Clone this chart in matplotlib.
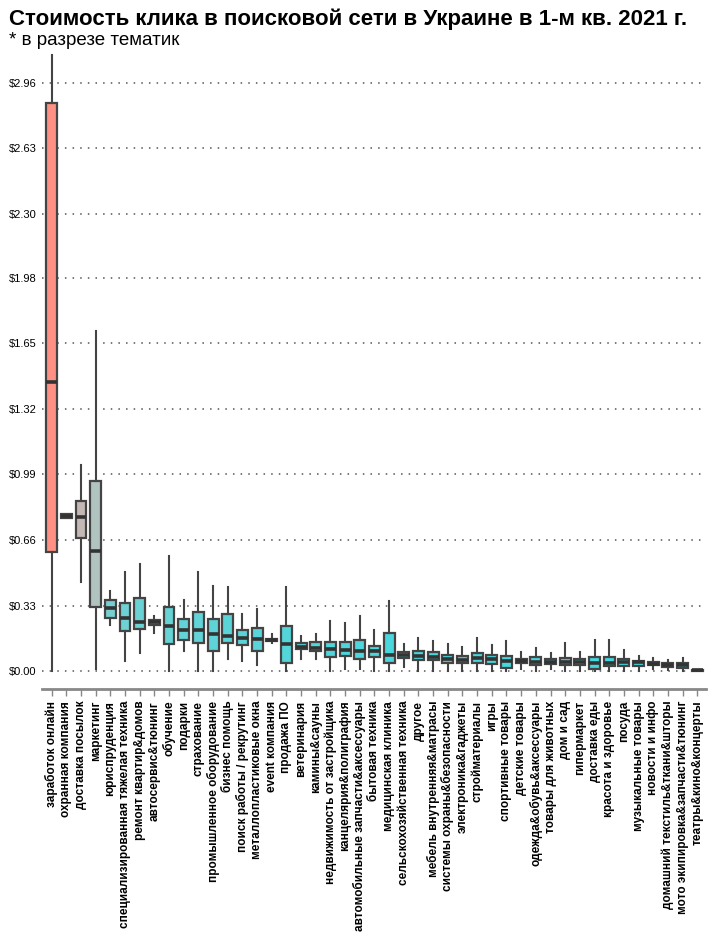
import matplotlib.pyplot as plt
from matplotlib.colors import LinearSegmentedColormap, Normalize

plt.rcParams['font.family'] = ['Liberation Sans', 'DejaVu Sans']

categories = [
    "заработок онлайн", "охранная компания", "доставка посылок", "маркетинг",
    "юриспруденция", "специализированная тяжелая техника", "ремонт квартир&домов",
    "автосервис&тюнинг", "обучение", "подарки", "страхование",
    "промышленное оборудование", "бизнес помощь", "поиск работы / рекрутинг",
    "металлопластиковые окна", "event компания", "продажа ПО", "ветеринария",
    "камины&сауны", "недвижимость от застройщика", "канцелярия&полиграфия",
    "автомобильные запчасти&аксессуары", "бытовая техника", "медицинская клиника",
    "сельскохозяйственная техника", "другое", "мебель внутренняя&матрасы",
    "системы охраны&безопасности", "электроника&гаджеты", "стройматериалы",
    "игры", "спортивные товары", "детские товары", "одежда&обувь&аксессуары",
    "товары для животных", "дом и сад", "гипермаркет", "доставка еды",
    "красота и здоровье", "посуда", "музыкальные товары", "новости и инфо",
    "домашний текстиль&ткани&шторы", "мото экипировка&запчасти&тюнинг",
    "театры&кино&концерты",
]

whislo = [0.00, 0.77, 0.45, 0.01, 0.23, 0.05, 0.09, 0.19, 0.00, 0.10, 0.00,
          0.00, 0.06, 0.05, 0.03, 0.14, 0.00, 0.06, 0.06, 0.00, 0.01, 0.01,
          0.00, 0.00, 0.02, 0.00, 0.00, 0.00, 0.00, 0.00, 0.00, 0.00, 0.01,
          0.00, 0.01, 0.00, 0.00, 0.00, 0.00, 0.00, 0.00, 0.01, 0.005, 0.00, 0.00]
q1 = [0.60, 0.77, 0.67, 0.32, 0.265, 0.20, 0.21, 0.23, 0.135, 0.157, 0.14,
      0.10, 0.143, 0.133, 0.10, 0.15, 0.042, 0.11, 0.10, 0.071, 0.074, 0.059,
      0.071, 0.042, 0.064, 0.054, 0.054, 0.04, 0.04, 0.039, 0.037, 0.014, 0.039,
      0.03, 0.035, 0.03, 0.032, 0.009, 0.025, 0.025, 0.027, 0.029, 0.019, 0.017, 0.002]
med = [1.455, 0.78, 0.776, 0.606, 0.317, 0.267, 0.246, 0.245, 0.228, 0.209, 0.207,
       0.189, 0.176, 0.169, 0.16, 0.157, 0.135, 0.123, 0.115, 0.11, 0.106, 0.101,
       0.101, 0.079, 0.079, 0.076, 0.071, 0.059, 0.054, 0.064, 0.059, 0.05, 0.05,
       0.046, 0.047, 0.044, 0.047, 0.039, 0.039, 0.047, 0.044, 0.036, 0.029, 0.029, 0.004]
q3 = [2.856, 0.79, 0.855, 0.956, 0.358, 0.343, 0.368, 0.258, 0.325, 0.262, 0.297,
      0.26, 0.285, 0.209, 0.219, 0.163, 0.226, 0.14, 0.145, 0.148, 0.148, 0.157,
      0.127, 0.192, 0.095, 0.101, 0.095, 0.081, 0.076, 0.09, 0.08, 0.078, 0.062,
      0.07, 0.061, 0.064, 0.059, 0.073, 0.073, 0.059, 0.051, 0.044, 0.039, 0.042, 0.006]
whishi = [3.10, 0.79, 1.037, 1.71, 0.405, 0.501, 0.54, 0.275, 0.578, 0.359, 0.501,
          0.427, 0.422, 0.287, 0.312, 0.186, 0.425, 0.177, 0.186, 0.253, 0.243, 0.275,
          0.206, 0.351, 0.135, 0.165, 0.152, 0.135, 0.123, 0.165, 0.132, 0.152, 0.098,
          0.118, 0.09, 0.14, 0.095, 0.154, 0.157, 0.107, 0.076, 0.064, 0.054, 0.064, 0.008]

tick_vals = [0.0, 0.33, 0.66, 0.99, 1.32, 1.65, 1.98, 2.30, 2.63, 2.96]

# цвет по медиане: бирюзовый -> серый -> лососевый
cmap = LinearSegmentedColormap.from_list("cpc", [
    (0.0, "#3cd8e0"), (0.07, "#4ed6dc"), (0.15, "#64d3d6"), (0.22, "#7acfcf"),
    (0.41, "#b0c4c0"), (0.53, "#c4b8b4"), (1.0, "#ff9184")])
norm = Normalize(0, max(med))

fig = plt.figure(figsize=(7.12, 9.36), dpi=100)
ax = fig.add_axes([0.059, 0.2639, 0.9326, 0.6827])

stats = []
for i in range(len(categories)):
    stats.append(dict(label=categories[i], whislo=whislo[i], q1=q1[i], med=med[i],
                      q3=q3[i], whishi=whishi[i], fliers=[]))

bp = ax.bxp(stats, positions=range(len(categories)), widths=0.74,
            patch_artist=True, showcaps=False, showfliers=False,
            boxprops=dict(edgecolor="#444444", linewidth=1.6),
            whiskerprops=dict(color="#444444", linewidth=1.5),
            medianprops=dict(color="#333333", linewidth=2.6, solid_capstyle="butt"))
for patch, m in zip(bp["boxes"], med):
    patch.set_facecolor(cmap(norm(m)))

ax.set_xlim(-0.66, 44.6)
ax.set_ylim(-0.09, 3.125)
ax.set_yticks(tick_vals)
ax.set_yticklabels(["$%.2f" % v for v in tick_vals], fontsize=8)
ax.yaxis.grid(True, linestyle=(0, (1, 4)), color="#555555", linewidth=1.1)
ax.set_axisbelow(True)
ax.tick_params(axis="y", length=0, pad=4)
ax.tick_params(axis="x", length=5, color="#888888", width=1)
ax.set_xticklabels(categories, rotation=90, fontsize=8.5, fontweight="bold")

for s in ["left", "right", "top"]:
    ax.spines[s].set_visible(False)
ax.spines["bottom"].set_color("#888888")
ax.spines["bottom"].set_linewidth(2)

fig.text(0.012, 0.979, "Стоимость клика в поисковой сети в Украине в 1-м кв. 2021 г.",
         fontsize=16, fontweight="bold", va="center")
fig.text(0.012, 0.957, "* в разрезе тематик", fontsize=13.5, va="center")

fig.savefig("out.png", dpi=100)
